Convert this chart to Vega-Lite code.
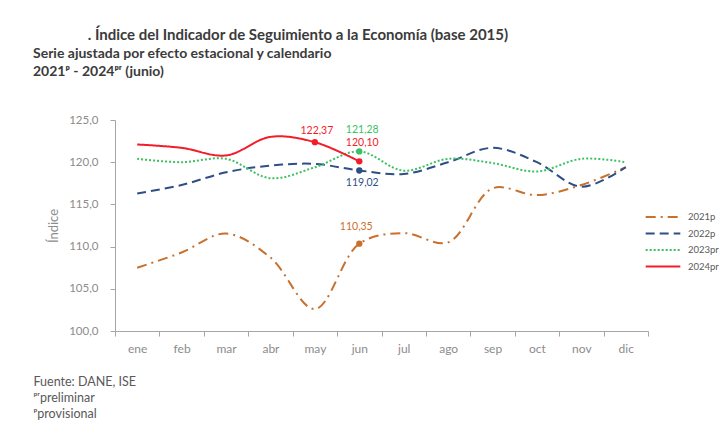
{
  "$schema": "https://vega.github.io/schema/vega-lite/v6.json",
  "autosize": {"type": "none"},
  "width": 533,
  "height": 211,
  "padding": {"left": 115, "top": 120, "right": 74, "bottom": 99},
  "background": "#ffffff",
  "config": {
    "view": {"stroke": null},
    "font": "Lato",
    "locale": {"number": {"decimal": ",", "thousands": ".", "grouping": [3], "currency": ["$", ""]}}
  },
  "title": {
    "text": "\u200b\u00a0\u00a0\u00a0\u00a0\u00a0\u00a0\u00a0\u00a0\u00a0\u00a0\u00a0\u00a0\u00a0\u00a0\u00a0. Índice del Indicador de Seguimiento a la Economía (base 2015)",
    "subtitle": ["Serie ajustada por efecto estacional y calendario", "2021ᵖ - 2024ᵖʳ (junio)"],
    "anchor": "start",
    "frame": "group",
    "dx": -82,
    "offset": 35,
    "font": "Lato",
    "fontSize": 15,
    "fontWeight": "bold",
    "color": "#3b3b3b",
    "subtitleFont": "Lato",
    "subtitleFontSize": 14,
    "subtitleFontWeight": "bold",
    "subtitleColor": "#3b3b3b",
    "subtitlePadding": 4,
    "subtitleLineHeight": 18
  },
  "datasets": {
    "series": [
      {"serie": "2021p", "mes": "ene", "valor": 107.5},
      {"serie": "2021p", "mes": "feb", "valor": 109.3},
      {"serie": "2021p", "mes": "mar", "valor": 111.55},
      {"serie": "2021p", "mes": "abr", "valor": 108.7},
      {"serie": "2021p", "mes": "may", "valor": 102.6},
      {"serie": "2021p", "mes": "jun", "valor": 110.35},
      {"serie": "2021p", "mes": "jul", "valor": 111.6},
      {"serie": "2021p", "mes": "ago", "valor": 110.5},
      {"serie": "2021p", "mes": "sep", "valor": 116.9},
      {"serie": "2021p", "mes": "oct", "valor": 116.1},
      {"serie": "2021p", "mes": "nov", "valor": 117.3},
      {"serie": "2021p", "mes": "dic", "valor": 119.4},
      {"serie": "2022p", "mes": "ene", "valor": 116.3},
      {"serie": "2022p", "mes": "feb", "valor": 117.3},
      {"serie": "2022p", "mes": "mar", "valor": 118.8},
      {"serie": "2022p", "mes": "abr", "valor": 119.6},
      {"serie": "2022p", "mes": "may", "valor": 119.8},
      {"serie": "2022p", "mes": "jun", "valor": 119.02},
      {"serie": "2022p", "mes": "jul", "valor": 118.6},
      {"serie": "2022p", "mes": "ago", "valor": 120.0},
      {"serie": "2022p", "mes": "sep", "valor": 121.7},
      {"serie": "2022p", "mes": "oct", "valor": 120.0},
      {"serie": "2022p", "mes": "nov", "valor": 117.1},
      {"serie": "2022p", "mes": "dic", "valor": 119.4},
      {"serie": "2023pr", "mes": "ene", "valor": 120.4},
      {"serie": "2023pr", "mes": "feb", "valor": 120.0},
      {"serie": "2023pr", "mes": "mar", "valor": 120.4},
      {"serie": "2023pr", "mes": "abr", "valor": 118.1},
      {"serie": "2023pr", "mes": "may", "valor": 119.4},
      {"serie": "2023pr", "mes": "jun", "valor": 121.28},
      {"serie": "2023pr", "mes": "jul", "valor": 119.0},
      {"serie": "2023pr", "mes": "ago", "valor": 120.4},
      {"serie": "2023pr", "mes": "sep", "valor": 119.9},
      {"serie": "2023pr", "mes": "oct", "valor": 118.9},
      {"serie": "2023pr", "mes": "nov", "valor": 120.4},
      {"serie": "2023pr", "mes": "dic", "valor": 120.0},
      {"serie": "2024pr", "mes": "ene", "valor": 122.1},
      {"serie": "2024pr", "mes": "feb", "valor": 121.7},
      {"serie": "2024pr", "mes": "mar", "valor": 120.8},
      {"serie": "2024pr", "mes": "abr", "valor": 123.0},
      {"serie": "2024pr", "mes": "may", "valor": 122.37},
      {"serie": "2024pr", "mes": "jun", "valor": 120.10}
    ],
    "puntos": [
      {"serie": "2021p", "mes": "jun", "valor": 110.35},
      {"serie": "2022p", "mes": "jun", "valor": 119.02},
      {"serie": "2023pr", "mes": "jun", "valor": 121.28},
      {"serie": "2024pr", "mes": "may", "valor": 122.37},
      {"serie": "2024pr", "mes": "jun", "valor": 120.10}
    ]
  },
  "encoding": {
    "x": {
      "field": "mes",
      "type": "nominal",
      "sort": ["ene", "feb", "mar", "abr", "may", "jun", "jul", "ago", "sep", "oct", "nov", "dic"],
      "scale": {"type": "band", "paddingInner": 0, "paddingOuter": 0, "domain": ["ene", "feb", "mar", "abr", "may", "jun", "jul", "ago", "sep", "oct", "nov", "dic"]},
      "bandPosition": 0.5,
      "axis": {
        "title": ["Fuente: DANE, ISE", "ᵖʳpreliminar", "ᵖprovisional"],
        "titleX": -82,
        "titleY": 44,
        "titleAlign": "left",
        "titleAnchor": "start",
        "titleBaseline": "top",
        "titleFontSize": 12.5,
        "titleFontWeight": "normal",
        "titleColor": "#595959",
        "titleLineHeight": 16,
        "tickBand": "extent",
        "labelAngle": 0,
        "labelColor": "#8c8c8c",
        "labelFontSize": 12,
        "labelPadding": 7,
        "domainColor": "#a6a6a6",
        "tickColor": "#a6a6a6",
        "tickSize": 5,
        "grid": false
      }
    },
    "y": {
      "field": "valor",
      "type": "quantitative",
      "scale": {"domain": [100, 125], "nice": false, "zero": false},
      "axis": {
        "title": "Índice",
        "titleColor": "#8c8c8c",
        "titleFontSize": 13,
        "titleFontWeight": "normal",
        "titlePadding": 8,
        "values": [100, 105, 110, 115, 120, 125],
        "format": ".1f",
        "labelColor": "#8c8c8c",
        "labelFontSize": 11.5,
        "labelPadding": 12,
        "domainColor": "#a6a6a6",
        "tickColor": "#a6a6a6",
        "tickSize": 5,
        "grid": false
      }
    },
    "color": {
      "field": "serie",
      "type": "nominal",
      "scale": {"domain": ["2021p", "2022p", "2023pr", "2024pr"], "range": ["#c8702c", "#2d4f86", "#3cc062", "#f21d2a"]},
      "legend": {
        "title": null,
        "orient": "none",
        "legendX": 538,
        "legendY": 87,
        "symbolType": "M-2,0L2,0",
        "symbolSize": 300,
        "symbolStrokeWidth": 2,
        "labelColor": "#595959",
        "labelFontSize": 9.5,
        "labelOffset": 15,
        "labelLimit": 60,
        "rowPadding": 1.5
      }
    }
  },
  "layer": [
    {
      "data": {"name": "series"},
      "mark": {"type": "line", "interpolate": "catmull-rom"},
      "encoding": {
        "strokeDash": {
          "field": "serie",
          "type": "nominal",
          "scale": {"domain": ["2021p", "2022p", "2023pr", "2024pr"], "range": [[10, 5, 2, 5], [9, 5], [2, 2], [1, 0]]}
        },
        "strokeWidth": {
          "field": "serie",
          "type": "nominal",
          "scale": {"domain": ["2021p", "2022p", "2023pr", "2024pr"], "range": [2, 2, 1.6, 2.4]},
          "legend": null
        }
      }
    },
    {
      "data": {"name": "puntos"},
      "mark": {"type": "point", "filled": true, "size": 40, "opacity": 1}
    },
    {
      "data": {"name": "puntos"},
      "transform": [{"filter": "datum.serie == '2024pr' && datum.mes == 'may'"}],
      "mark": {"type": "text", "dy": -11, "fontSize": 10.5, "dx": 2},
      "encoding": {"text": {"field": "valor", "type": "quantitative", "format": ".2f"}}
    },
    {
      "data": {"name": "puntos"},
      "transform": [{"filter": "datum.serie == '2024pr' && datum.mes == 'jun'"}],
      "mark": {"type": "text", "dy": -18, "fontSize": 10.5, "dx": 3},
      "encoding": {"text": {"field": "valor", "type": "quantitative", "format": ".2f"}}
    },
    {
      "data": {"name": "puntos"},
      "transform": [{"filter": "datum.serie == '2023pr'"}],
      "mark": {"type": "text", "dy": -21, "fontSize": 10.5, "dx": 3},
      "encoding": {"text": {"field": "valor", "type": "quantitative", "format": ".2f"}}
    },
    {
      "data": {"name": "puntos"},
      "transform": [{"filter": "datum.serie == '2022p'"}],
      "mark": {"type": "text", "dy": 13, "fontSize": 10.5, "dx": 3},
      "encoding": {"text": {"field": "valor", "type": "quantitative", "format": ".2f"}}
    },
    {
      "data": {"name": "puntos"},
      "transform": [{"filter": "datum.serie == '2021p'"}],
      "mark": {"type": "text", "dy": -17, "fontSize": 10.5, "dx": -3},
      "encoding": {"text": {"field": "valor", "type": "quantitative", "format": ".2f"}}
    }
  ]
}
